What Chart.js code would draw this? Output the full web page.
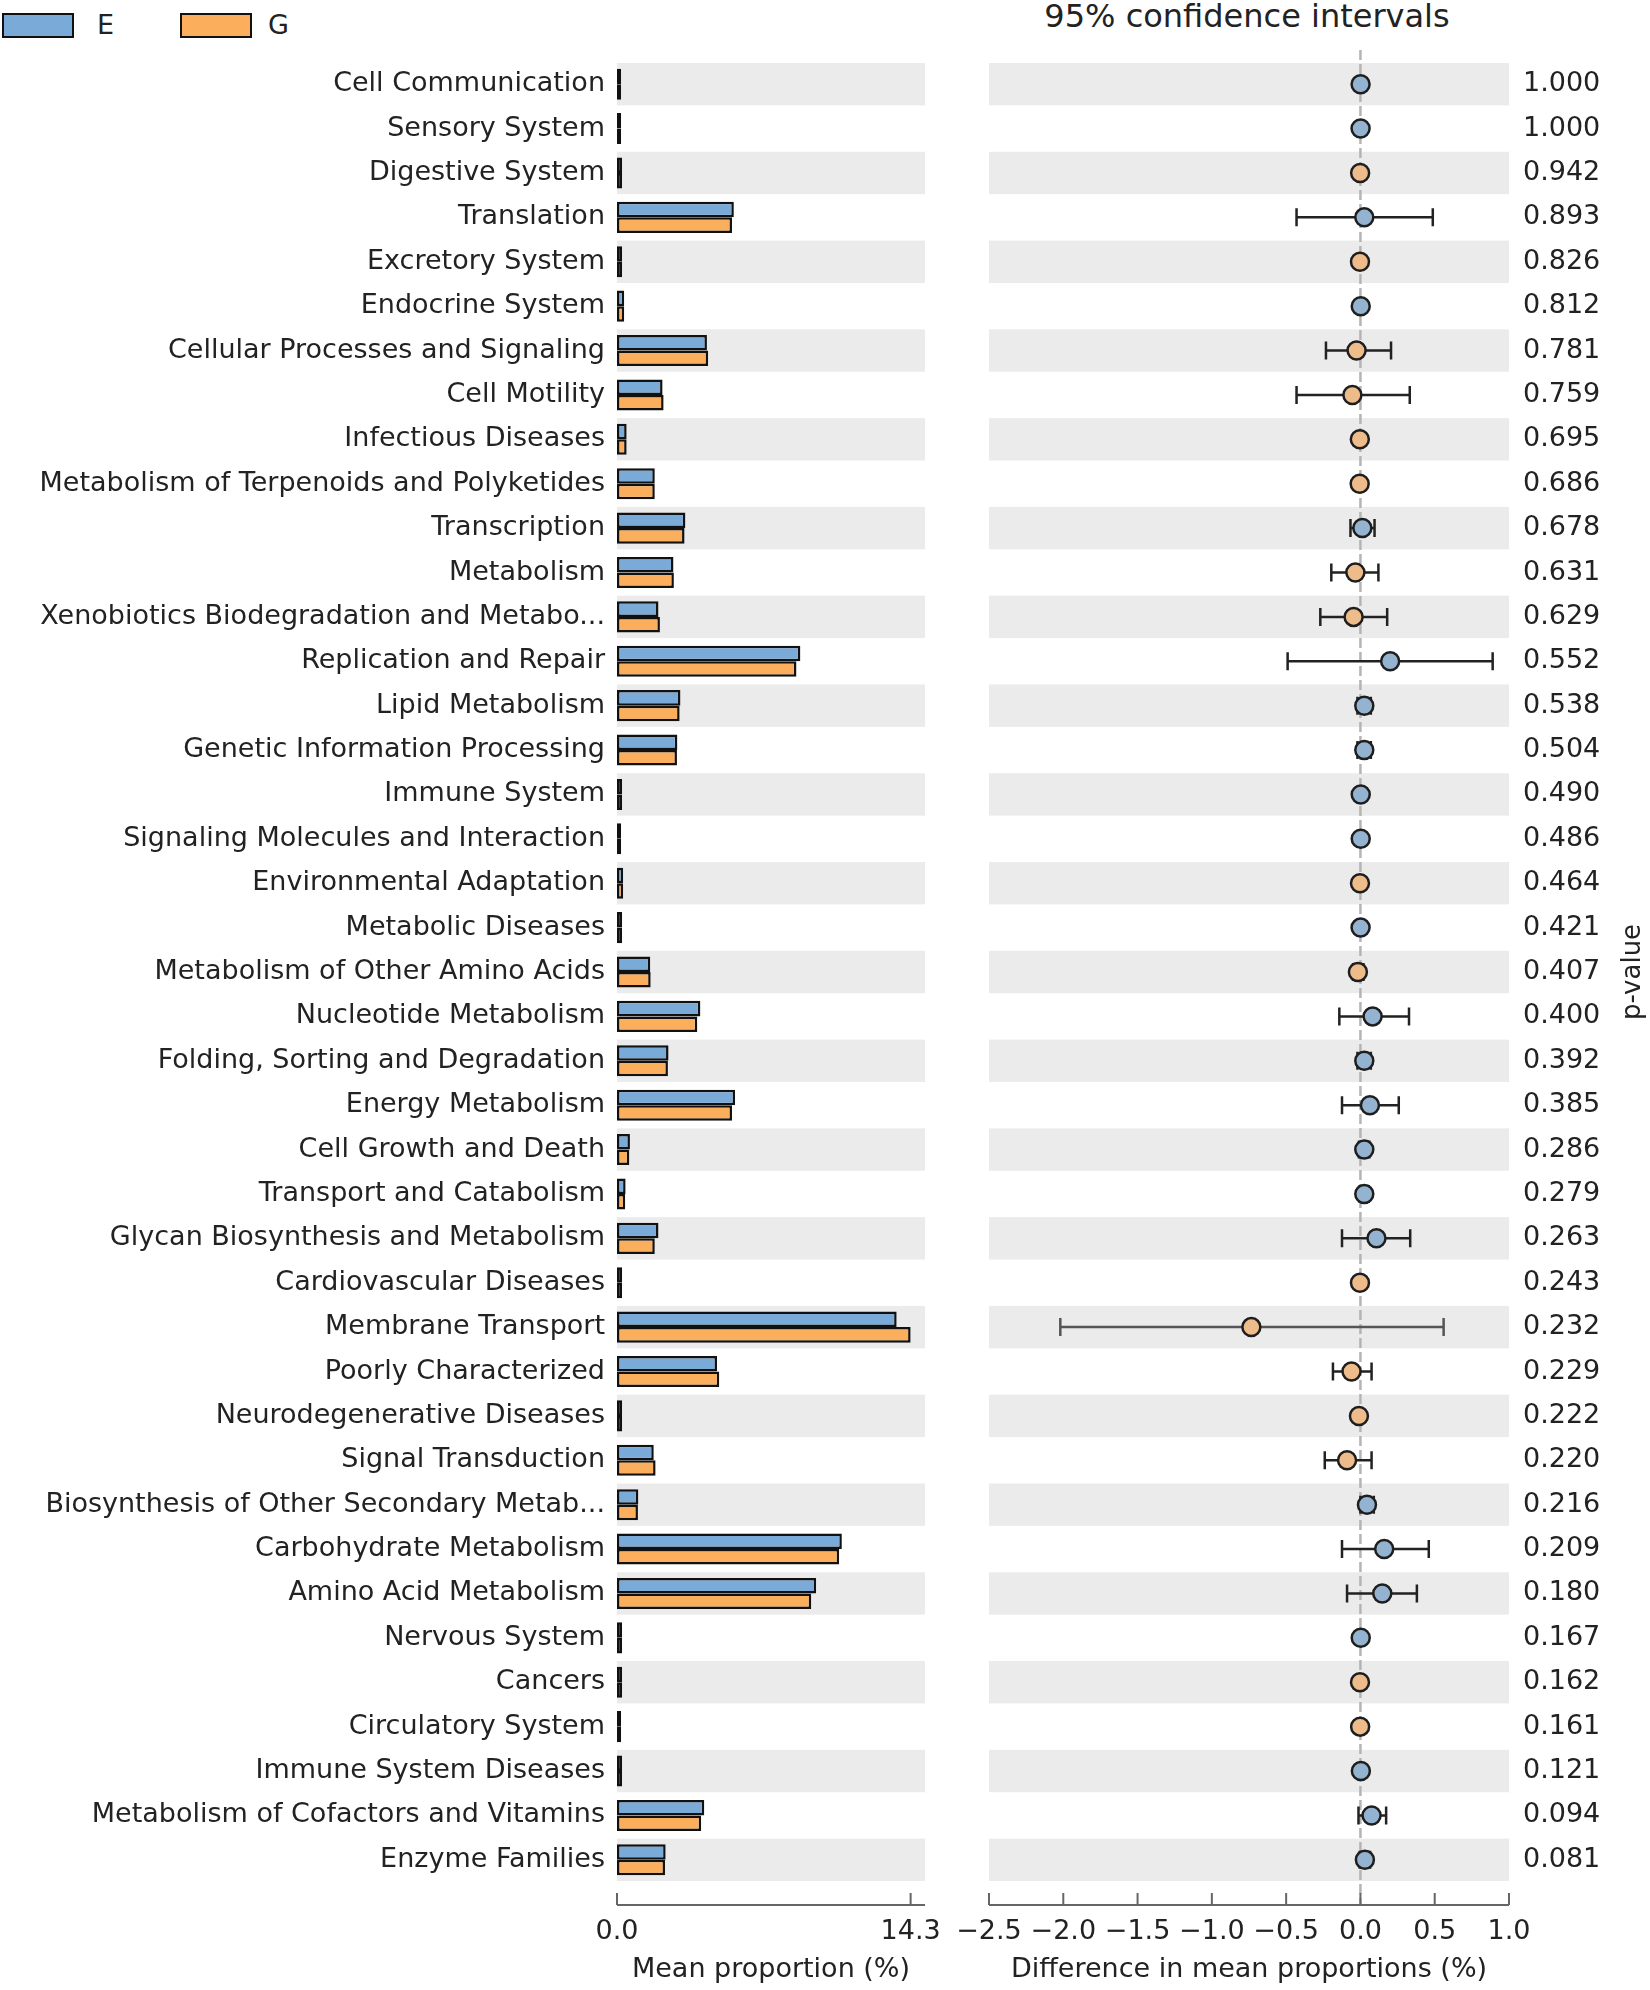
<!DOCTYPE html>
<html>
<head>
<meta charset="utf-8">
<script src="https://cdn.jsdelivr.net/npm/chart.js@4.4.1/dist/chart.umd.min.js"></script>
<style>
  body { margin: 0; width: 1650px; height: 1990px; background: #fff; position: relative; overflow: hidden; font-family: 'DejaVu Sans', sans-serif; color: #222; }
  #left { position: absolute; left: 0; top: 0; width: 960px; height: 1990px; }
  #right { position: absolute; left: 950px; top: 0; width: 700px; height: 1990px; }
  .box { position: absolute; top: 13px; width: 68px; height: 21px; border: 2px solid #111; }
  .lab { position: absolute; top: 9px; font-size: 27px; line-height: 32px; }
  #title { position: absolute; left: 1000px; width: 494px; top: -3px; text-align: center; font-size: 32px; line-height: 38px; }
</style>
</head>
<body>
<div class="box" style="left:2px; background:#7aaad8"></div>
<div class="lab" style="left:97px">E</div>
<div class="box" style="left:180px; background:#fbaf5d"></div>
<div class="lab" style="left:268px">G</div>
<div id="title">95% confidence intervals</div>
<div id="left"><canvas id="chartLeft"></canvas></div>
<div id="right"><canvas id="chartRight"></canvas></div>
<script>
const categories = [
    'Cell Communication', 'Sensory System', 'Digestive System', 'Translation',
    'Excretory System', 'Endocrine System', 'Cellular Processes and Signaling',
    'Cell Motility', 'Infectious Diseases', 'Metabolism of Terpenoids and Polyketides',
    'Transcription', 'Metabolism', 'Xenobiotics Biodegradation and Metabo...',
    'Replication and Repair', 'Lipid Metabolism', 'Genetic Information Processing',
    'Immune System', 'Signaling Molecules and Interaction', 'Environmental Adaptation',
    'Metabolic Diseases', 'Metabolism of Other Amino Acids', 'Nucleotide Metabolism',
    'Folding, Sorting and Degradation', 'Energy Metabolism', 'Cell Growth and Death',
    'Transport and Catabolism', 'Glycan Biosynthesis and Metabolism',
    'Cardiovascular Diseases', 'Membrane Transport', 'Poorly Characterized',
    'Neurodegenerative Diseases', 'Signal Transduction',
    'Biosynthesis of Other Secondary Metab...', 'Carbohydrate Metabolism',
    'Amino Acid Metabolism', 'Nervous System', 'Cancers', 'Circulatory System',
    'Immune System Diseases', 'Metabolism of Cofactors and Vitamins', 'Enzyme Families'
];

// mean proportion (%) per group
const meanE = [0.2, 0.2, 0.25, 5.69, 0.25, 0.35, 4.38, 2.22, 0.47, 1.84,
    3.33, 2.75, 2.02, 8.93, 3.09, 2.94, 0.25, 0.2, 0.3, 0.25,
    1.62, 4.06, 2.51, 5.75, 0.63, 0.42, 2.02, 0.25, 13.62, 4.87,
    0.25, 1.79, 1.04, 10.95, 9.7, 0.25, 0.25, 0.2, 0.25, 4.25, 2.37];
const meanG = [0.2, 0.2, 0.25, 5.6, 0.25, 0.35, 4.44, 2.27, 0.47, 1.84,
    3.29, 2.77, 2.09, 8.74, 3.05, 2.92, 0.25, 0.2, 0.3, 0.25,
    1.64, 3.91, 2.48, 5.6, 0.6, 0.4, 1.84, 0.25, 14.3, 4.98,
    0.25, 1.88, 1.02, 10.82, 9.46, 0.25, 0.25, 0.2, 0.25, 4.1, 2.34];

// difference in mean proportions (%) with 95% CI
const diffs = [0.001, 0.001, -0.002, 0.026, -0.003, 0.002, -0.026, -0.054, -0.004, -0.005,
    0.013, -0.034, -0.046, 0.2, 0.026, 0.026, 0.002, 0.002, -0.003, 0.001,
    -0.017, 0.082, 0.026, 0.064, 0.026, 0.026, 0.108, -0.003, -0.734, -0.06,
    -0.01, -0.09, 0.044, 0.16, 0.147, 0.002, -0.003, -0.002, 0.003, 0.075, 0.03];
const ciLow = [-0.004, -0.004, -0.007, -0.43, -0.008, -0.004, -0.232, -0.43, -0.01, -0.015,
    -0.067, -0.196, -0.27, -0.49, -0.02, -0.02, -0.004, -0.004, -0.009, -0.004,
    -0.05, -0.142, -0.02, -0.124, -0.01, -0.005, -0.124, -0.008, -2.02, -0.185,
    -0.02, -0.24, 0.0, -0.124, -0.09, -0.004, -0.008, -0.007, -0.003, -0.013, -0.005];
const ciHigh = [0.006, 0.006, 0.003, 0.487, 0.002, 0.008, 0.206, 0.332, 0.002, 0.005,
    0.095, 0.121, 0.18, 0.89, 0.07, 0.07, 0.008, 0.008, 0.003, 0.006,
    0.02, 0.327, 0.07, 0.258, 0.06, 0.055, 0.335, 0.002, 0.56, 0.075,
    0.0, 0.075, 0.09, 0.46, 0.38, 0.008, 0.002, 0.003, 0.009, 0.173, 0.065];

const pValues = ['1.000', '1.000', '0.942', '0.893', '0.826', '0.812', '0.781', '0.759',
    '0.695', '0.686', '0.678', '0.631', '0.629', '0.552', '0.538', '0.504', '0.490',
    '0.486', '0.464', '0.421', '0.407', '0.400', '0.392', '0.385', '0.286', '0.279',
    '0.263', '0.243', '0.232', '0.229', '0.222', '0.220', '0.216', '0.209', '0.180',
    '0.167', '0.162', '0.161', '0.121', '0.094', '0.081'];

// left axis: only 0 and the largest mean are labelled, the axis runs a bit past it
const leftTicks = [0, 14.3];
const leftMax = 15.0;
const diffMin = -2.5, diffMax = 1.0;

const blueBar = '#7aaad8', orangeBar = '#fbaf5d';
const bluePoint = '#93b3d0', orangePoint = '#eebc8a';
const textColor = '#222';
const font = { family: 'DejaVu Sans', size: 27 };

// grey bands on every other row
function drawBands(chart) {
    const { ctx, chartArea, scales: { y } } = chart;
    const step = y.getPixelForValue(1) - y.getPixelForValue(0);
    ctx.save();
    ctx.fillStyle = '#ebebeb';
    categories.forEach((c, i) => {
        if (i % 2 !== 0) return;
        const yc = y.getPixelForValue(i);
        ctx.fillRect(chartArea.left, yc - step / 2 + 1, chartArea.right - chartArea.left, step - 2);
    });
    ctx.restore();
}

// axis line set a little below the plot, ticks pointing up
function drawSpine(chart) {
    const { ctx, chartArea, scales: { x } } = chart;
    const yLine = chartArea.bottom + 23;
    ctx.save();
    ctx.strokeStyle = '#666';
    ctx.lineWidth = 2;
    ctx.beginPath();
    ctx.moveTo(chartArea.left, yLine);
    ctx.lineTo(chartArea.right, yLine);
    x.ticks.forEach(t => {
        const px = x.getPixelForValue(t.value);
        ctx.moveTo(px, yLine);
        ctx.lineTo(px, yLine - 12);
    });
    ctx.stroke();
    ctx.restore();
}

const leftPlugin = {
    id: 'leftPlugin',
    beforeDatasetsDraw: drawBands,
    afterDraw: drawSpine
};

const rightPlugin = {
    id: 'rightPlugin',
    beforeDatasetsDraw: (chart) => {
        drawBands(chart);
        const { ctx, chartArea, scales: { x, y } } = chart;
        // dashed zero line
        const x0 = x.getPixelForValue(0);
        ctx.save();
        ctx.strokeStyle = '#b4b4b4';
        ctx.lineWidth = 2.5;
        ctx.setLineDash([10, 4]);
        ctx.beginPath();
        ctx.moveTo(x0, chartArea.top - 12);
        ctx.lineTo(x0, chartArea.bottom + 23);
        ctx.stroke();
        ctx.setLineDash([]);
        // error bars
        ctx.lineWidth = 2.5;
        categories.forEach((c, i) => {
            const yc = y.getPixelForValue(i);
            const xl = x.getPixelForValue(ciLow[i]);
            const xh = x.getPixelForValue(ciHigh[i]);
            ctx.strokeStyle = i === 28 ? '#555' : '#222';
            ctx.beginPath();
            ctx.moveTo(xl, yc);
            ctx.lineTo(xh, yc);
            ctx.moveTo(xl, yc - 9);
            ctx.lineTo(xl, yc + 9);
            ctx.moveTo(xh, yc - 9);
            ctx.lineTo(xh, yc + 9);
            ctx.stroke();
        });
        ctx.restore();
    },
    afterDraw: (chart) => {
        drawSpine(chart);
        const { ctx, chartArea } = chart;
        ctx.save();
        ctx.fillStyle = textColor;
        ctx.font = '26px "DejaVu Sans"';
        ctx.textAlign = 'center';
        ctx.textBaseline = 'middle';
        ctx.translate(683, (chartArea.top + chartArea.bottom) / 2);
        ctx.rotate(-Math.PI / 2);
        ctx.fillText('p-value', 0, 0);
        ctx.restore();
    }
};

// the tick gap is made with an invisible tick length, so the axis keeps no extra side padding
const xGrid = { display: false, drawTicks: true, tickLength: 31 };

new Chart(document.getElementById('chartLeft'), {
    type: 'bar',
    data: {
        labels: categories,
        datasets: [
            { label: 'E', data: meanE, backgroundColor: blueBar, borderColor: '#111', borderWidth: 2.5, borderSkipped: false },
            { label: 'G', data: meanG, backgroundColor: orangeBar, borderColor: '#111', borderWidth: 2.5, borderSkipped: false }
        ]
    },
    options: {
        indexAxis: 'y',
        responsive: true,
        maintainAspectRatio: false,
        animation: false,
        layout: { padding: { top: 62, right: 35, bottom: 0, left: 0 } },
        categoryPercentage: 0.7,
        barPercentage: 1.0,
        plugins: { legend: { display: false }, tooltip: { enabled: false } },
        scales: {
            x: {
                type: 'linear',
                min: 0,
                max: leftMax,
                border: { display: false },
                grid: xGrid,
                afterBuildTicks: (scale) => { scale.ticks = leftTicks.map(v => ({ value: v })); },
                ticks: { font, color: textColor, padding: 3, maxRotation: 0, callback: v => v.toFixed(1) },
                title: { display: true, text: 'Mean proportion (%)', font, color: textColor, padding: { top: 0, bottom: 4 } },
                afterFit: (scale) => { scale.height = 108; }
            },
            y: {
                border: { display: false },
                grid: { display: false, drawTicks: false },
                ticks: { font, color: textColor, padding: 12, autoSkip: false },
                afterFit: (scale) => { scale.width = 617; }
            }
        }
    },
    plugins: [leftPlugin]
});

new Chart(document.getElementById('chartRight'), {
    type: 'scatter',
    data: {
        labels: categories,
        datasets: [{
            label: 'difference',
            data: categories.map((c, i) => ({ x: diffs[i], y: c })),
            pointRadius: 9,
            pointBackgroundColor: diffs.map(d => d >= 0 ? bluePoint : orangePoint),
            pointBorderColor: '#1e1e1e',
            pointBorderWidth: 2.5
        }]
    },
    options: {
        responsive: true,
        maintainAspectRatio: false,
        animation: false,
        layout: { padding: { top: 62, right: 0, bottom: 0, left: 39 } },
        plugins: { legend: { display: false }, tooltip: { enabled: false } },
        scales: {
            x: {
                type: 'linear',
                min: diffMin,
                max: diffMax,
                border: { display: false },
                grid: xGrid,
                ticks: {
                    stepSize: 0.5, font, color: textColor, padding: 3, maxRotation: 0,
                    callback: v => v.toFixed(1).replace('-', '\u2212')
                },
                title: { display: true, text: 'Difference in mean proportions (%)', font, color: textColor, padding: { top: 0, bottom: 4 } },
                afterFit: (scale) => { scale.height = 108; }
            },
            y: {
                type: 'category',
                position: 'right',
                offset: true,
                border: { display: false },
                grid: { display: false, drawTicks: false },
                ticks: { font, color: textColor, padding: 14, autoSkip: false, callback: (v, i) => pValues[i] },
                afterFit: (scale) => { scale.width = 141; }
            }
        }
    },
    plugins: [rightPlugin]
});
</script>
</body>
</html>
